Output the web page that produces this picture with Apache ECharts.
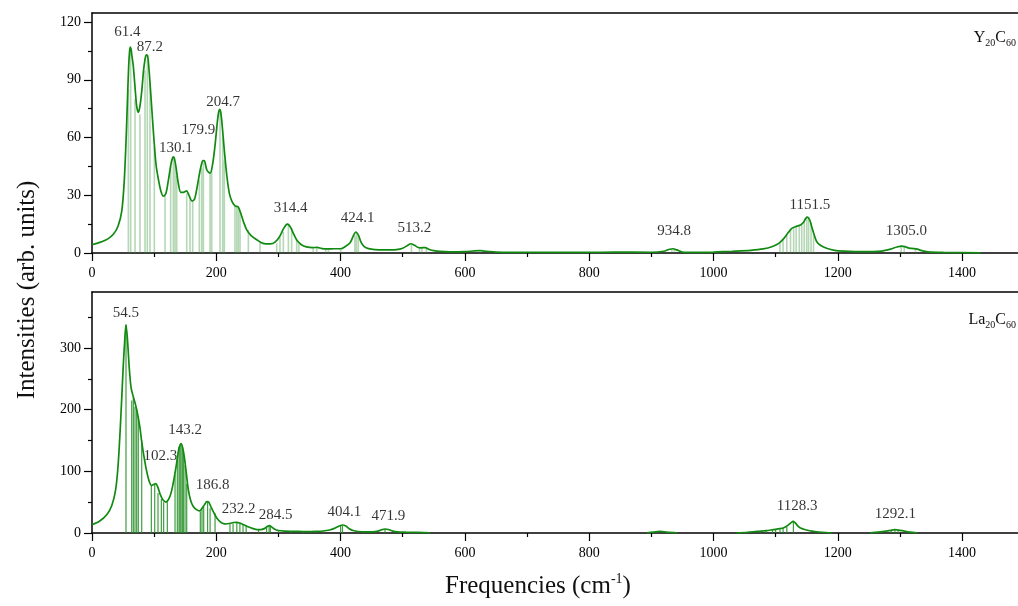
<!DOCTYPE html>
<html>
<head>
<meta charset="utf-8">
<script src="https://cdn.jsdelivr.net/npm/echarts@6/dist/echarts.min.js"></script>
<style>
  html, body { margin: 0; padding: 0; background: #fff; }
  #chart { width: 1018px; height: 606px; }
</style>
</head>
<body>
<div id="chart"></div>
<script>
// Y20C60 spectrum (top panel)
const topFreq = [0, 15, 25, 35, 42, 48, 52, 55, 57, 59, 60.3, 61.5, 62.8, 64, 66.5, 70, 72, 74.5, 77, 80, 83, 85, 86.6, 88, 89.4, 90.5, 93, 96, 99, 103, 107, 111, 115, 119, 123, 127, 129.5, 131, 132.5, 135, 139, 143, 147, 152, 156, 161, 165, 169, 174, 177, 178.5, 180, 181.5, 185, 190, 194, 198, 202, 204, 205.5, 207, 209, 213, 217, 221, 225, 230, 235, 239, 244, 249, 256, 265, 275, 287, 295, 302, 308, 312, 314.5, 317, 320, 325, 330, 337, 345, 355, 362, 370, 378, 390, 400, 407, 415, 420, 424.5, 429, 433, 438, 445, 455, 470, 490, 500, 507, 513, 519, 524, 529, 536, 543, 550, 560, 575, 600, 615, 625, 635, 650, 700, 800, 840, 900, 920, 928, 934.5, 941, 950, 970, 1000, 1030, 1060, 1080, 1095, 1105, 1113, 1120, 1126, 1133, 1140, 1145, 1148.5, 1151.5, 1155, 1158, 1162, 1166, 1172, 1182, 1195, 1210, 1240, 1270, 1285, 1295, 1303, 1308, 1315, 1322, 1328, 1335, 1345, 1370, 1430]
const topCurve = [4.3, 5.8, 7.2, 10, 14, 22, 38, 60, 79, 97, 104, 107, 106, 103, 97, 83, 76, 73, 76, 84, 95, 100, 102.5, 103, 102.5, 100, 90, 76, 62, 46, 38, 32, 29.5, 31, 38, 46, 49.3, 50, 49.3, 45, 36, 31.5, 31.5, 32.3, 30, 27, 28, 34, 43, 47, 48, 48, 47.5, 43, 41.5, 46, 56, 69, 73.5, 74.6, 73.5, 68, 53, 40, 31, 27, 24.5, 24, 21, 16, 12, 9, 6.9, 5, 4.7, 5.8, 8.6, 12.5, 14.5, 15, 14.5, 13, 9.5, 6.5, 4.3, 3.2, 2.8, 2.9, 2.3, 2.1, 2.2, 2.2, 3.2, 5.2, 8.5, 10.9, 9, 5.5, 3.3, 2.3, 1.8, 1.6, 1.8, 2.5, 3.8, 4.8, 4, 3, 2.7, 2.8, 1.8, 1.2, 0.8, 0.6, 0.7, 1.1, 1.2, 0.9, 0.5, 0.3, 0.3, 0.5, 0.4, 0.9, 1.8, 2.2, 1.6, 0.5, 0.3, 0.5, 0.9, 1.4, 2.1, 3.4, 5, 7.5, 10.5, 12.8, 13.8, 14.5, 16, 18, 18.6, 17, 13.8, 9.5, 6, 4, 2.5, 1.4, 1, 0.7, 1, 2, 3.1, 3.6, 3.3, 2.5, 2.3, 2, 1.2, 0.6, 0.3, 0.1]
const topStickFreq = [58.5, 62.2, 69.2, 77.2, 85.3, 89, 93.3, 100.3, 117.5, 126.6, 130.9, 133.6, 136.3, 152.4, 157.7, 162, 172.7, 176.5, 179.2, 190, 192.6, 206, 210.3, 212.9, 230, 232.9, 235.5, 238.2, 251.6, 270.4, 297.2, 302.5, 307.9, 316, 321.3, 329.4, 333, 356, 361.6, 376, 380.4, 400, 423, 425.5, 428.5, 514, 527, 531, 538, 933, 937, 1107, 1112, 1118, 1124, 1129, 1133, 1138, 1142, 1146, 1150, 1153, 1157, 1161, 1302, 1307, 1325]
const topStickHeight = [85, 104, 80, 72, 95, 100, 88, 55, 30, 45, 49, 47, 40, 31, 29, 27, 38, 44, 47, 41, 44, 73, 60, 48, 24, 24, 24, 22, 12, 6, 5, 8, 11, 15, 13, 7, 5, 2.5, 2.5, 2, 2, 2, 9, 10.5, 9.5, 4.5, 2.7, 2.7, 2.7, 2, 2, 5.5, 7, 9, 12, 13, 13.5, 14, 14.5, 16, 18, 18, 16, 9, 3.3, 3.3, 2]
const topPeakText = ['61.4', '87.2', '130.1', '179.9', '204.7', '314.4', '424.1', '513.2', '934.8', '1151.5', '1305.0']
const topPeakLabelX = [57, 93.3, 135, 171, 211, 319.7, 427.5, 518.7, 936.6, 1155, 1310.5]
const topPeakLabelY = [114.7, 107, 54.4, 63.9, 78.5, 23.6, 18.1, 13, 11.2, 25, 11.2]

// La20C60 spectrum (bottom panel)
const botFreq = [0, 12, 24, 32, 38, 42, 46, 50, 52.5, 54.7, 57, 60, 63, 66.5, 70, 73, 77, 80, 84, 88, 92, 96, 100, 102.5, 106, 110, 114, 119, 124, 128, 132, 136, 139.5, 143.2, 146, 149, 152, 155, 159, 163, 168, 173, 177, 181, 185, 188, 192, 196, 201, 206, 211, 216, 222, 228, 233, 238, 244, 250, 258, 266, 272, 278, 282, 285.5, 289, 294, 300, 310, 325, 345, 360, 372, 382, 390, 397, 403.5, 409, 414, 420, 428, 440, 452, 460, 466, 471.5, 477, 484, 492, 505, 525, 544, 700, 893, 903, 914, 925, 941, 990, 1037, 1055, 1070, 1085, 1096, 1107, 1114, 1119, 1124, 1128.5, 1132, 1136, 1140, 1147, 1155, 1163, 1175, 1190, 1220, 1252, 1265, 1278, 1287, 1292, 1298, 1307, 1316, 1327]
const botCurve = [13.5, 19, 30, 45, 70, 110, 180, 265, 310, 338, 315, 267, 235, 221, 208, 195, 172, 148, 122, 100, 84, 77, 79, 80, 74, 62, 54, 50, 56, 68, 88, 112, 135, 145, 138, 120, 95, 70, 52, 43, 38, 36, 40, 46, 51, 50, 41, 33, 24, 18.5, 15.5, 14.6, 15.5, 17, 17.3, 16, 13.5, 10.5, 7.5, 5.6, 5.6, 7.5, 10.5, 11.9, 10, 6, 4, 3, 2.7, 2.2, 2.5, 3.2, 4.8, 7.5, 11, 13, 11, 7, 4, 2.4, 1.7, 1.8, 3, 5.2, 6.5, 5.6, 3, 1.9, 1.4, 0.9, 0.4, null, 0.3, 1.5, 2.7, 1.5, 0.3, null, 0.3, 1.2, 2.7, 3.8, 5.4, 7, 9, 12, 16, 18.8, 16, 11, 8, 5.6, 3.6, 2.4, 1.2, 0.3, null, 0.3, 1.3, 3, 4.8, 5.4, 4.8, 3, 1.4, 0.3]
const botStickFreq = [54.7, 63.9, 66.5, 69.2, 71.9, 74.5, 80, 95.5, 100.9, 106.2, 111.6, 115.3, 121.2, 133.6, 137.3, 140, 141.6, 143.2, 145.3, 147, 149.7, 152.4, 174.3, 177, 179.7, 186, 190, 198, 222, 227, 233, 238, 243, 248, 268, 281, 285, 287, 300, 320, 340, 360, 372, 400, 403, 471.5, 1075, 1085, 1095, 1100, 1107, 1112, 1118, 1128.6, 1286, 1292, 1297]
const botStickHeight = [337, 215, 220, 205, 200, 190, 150, 78, 80, 65, 55, 50, 50, 95, 120, 140, 143, 145, 140, 130, 110, 80, 35, 38, 42, 50, 40, 32, 14, 15, 17, 15, 13, 10, 6, 10, 12, 10, 3, 3, 3, 3, 3, 12, 12, 6, 3, 3.5, 4.5, 5, 6, 8, 10, 18, 4, 5, 4]
const botPeakText = ['54.5', '102.3', '143.2', '186.8', '232.2', '284.5', '404.1', '471.9', '1128.3', '1292.1']
const botPeakLabelX = [54.7, 110, 149.7, 194, 236, 295.6, 406, 476.9, 1134.5, 1292.8]
const botPeakLabelY = [356.7, 124.2, 167.5, 78.3, 39.4, 29.7, 33.4, 28, 44.3, 30.8]

// tick labels
const xMajor = [0, 200, 400, 600, 800, 1000, 1200, 1400]
const xMinor = [100, 300, 500, 700, 900, 1100, 1300]
const topYMajor = [0, 30, 60, 90, 120]
const topYMinor = [15, 45, 75, 105]
const botYMajor = [0, 100, 200, 300]
const botYMinor = [50, 150, 250, 350]

const serif = 'Liberation Serif'
const green = '#118a11'
const xMax = 1490

function pairs(xs, ys) {
  return xs.map((x, i) => [x, ys[i]])
}
function labelPoints(xs, ys, texts) {
  return xs.map((x, i) => ({ value: [x, ys[i]], name: texts[i] }))
}

function xAxes(gridIndex) {
  return [{
    gridIndex, type: 'value', position: 'bottom', min: 0, max: xMax,
    axisLine: { lineStyle: { color: '#000', width: 1.5 } },
    axisTick: { customValues: xMajor, length: 8, lineStyle: { color: '#000', width: 1.2 } },
    axisLabel: { customValues: xMajor, formatter: v => String(v), color: '#000', fontFamily: serif, fontSize: 14, margin: 13 },
    splitLine: { show: false }
  }, {
    gridIndex, type: 'value', position: 'bottom', min: 0, max: xMax,
    axisLine: { show: false },
    axisTick: { customValues: xMinor, length: 4, lineStyle: { color: '#000', width: 1.2 } },
    axisLabel: { show: false },
    splitLine: { show: false }
  }, {
    gridIndex, type: 'value', position: 'top', min: 0, max: xMax,
    axisLine: { lineStyle: { color: '#000', width: 1.5 } },
    axisTick: { show: false },
    axisLabel: { show: false },
    splitLine: { show: false }
  }]
}

function yAxes(gridIndex, max, major, minor) {
  return [{
    gridIndex, type: 'value', position: 'left', min: 0, max: max,
    axisLine: { show: true, lineStyle: { color: '#000', width: 1.5 } },
    axisTick: { show: true, customValues: major, length: 8, lineStyle: { color: '#000', width: 1.2 } },
    axisLabel: { customValues: major, formatter: v => String(v), color: '#000', fontFamily: serif, fontSize: 14, margin: 11 },
    splitLine: { show: false }
  }, {
    gridIndex, type: 'value', position: 'left', min: 0, max: max,
    axisLine: { show: false },
    axisTick: { show: true, customValues: minor, length: 4, lineStyle: { color: '#000', width: 1.2 } },
    axisLabel: { show: false },
    splitLine: { show: false }
  }]
}

function panelSeries(xIdx, yIdx, sticks, curve, labels, stickColor, stickWidth) {
  return [{
    type: 'bar', xAxisIndex: xIdx, yAxisIndex: yIdx,
    data: sticks, barWidth: stickWidth, silent: true,
    itemStyle: { color: stickColor }
  }, {
    type: 'line', xAxisIndex: xIdx, yAxisIndex: yIdx,
    data: curve, showSymbol: false, smooth: 0.3,
    connectNulls: false,
    lineStyle: { color: green, width: 1.7 }
  }, {
    type: 'scatter', xAxisIndex: xIdx, yAxisIndex: yIdx,
    data: labels, symbolSize: 1, itemStyle: { color: 'rgba(0,0,0,0)' },
    label: {
      show: true, position: 'inside', formatter: p => p.name,
      color: '#000', fontFamily: serif, fontSize: 15
    }
  }]
}

const chart = echarts.init(document.getElementById('chart'))

chart.setOption({
  animation: false,
  grid: [
    { left: 92, right: 0, top: 13, height: 240 },
    { left: 92, right: 0, top: 292, height: 241 }
  ],
  xAxis: [...xAxes(0), ...xAxes(1)],
  yAxis: [...yAxes(0, 124.7, topYMajor, topYMinor), ...yAxes(1, 391, botYMajor, botYMinor)],
  series: [
    ...panelSeries(0, 0, pairs(topStickFreq, topStickHeight), pairs(topFreq, topCurve),
      labelPoints(topPeakLabelX, topPeakLabelY, topPeakText), 'rgba(60,150,60,0.38)', 1.6),
    ...panelSeries(3, 2, pairs(botStickFreq, botStickHeight), pairs(botFreq, botCurve),
      labelPoints(botPeakLabelX, botPeakLabelY, botPeakText), 'rgba(30,140,30,0.85)', 1.2)
  ],
  graphic: [{
    type: 'text', right: 2, top: 30,
    style: {
      text: '{m|Y}{s|20}{m|C}{s|60}',
      rich: {
        m: { fontFamily: serif, fontSize: 16, fill: '#111' },
        s: { fontFamily: serif, fontSize: 10, fill: '#111', padding: [10, 0, 0, 0] }
      }
    }
  }, {
    type: 'text', right: 2, top: 312,
    style: {
      text: '{m|La}{s|20}{m|C}{s|60}',
      rich: {
        m: { fontFamily: serif, fontSize: 16, fill: '#111' },
        s: { fontFamily: serif, fontSize: 10, fill: '#111', padding: [10, 0, 0, 0] }
      }
    }
  }, {
    type: 'text', x: 27, y: 290, rotation: Math.PI / 2,
    style: {
      text: 'Intensities (arb. units)', fontFamily: serif, fontSize: 25, fill: '#111',
      align: 'center', verticalAlign: 'middle'
    }
  }, {
    type: 'text', left: 445, top: 572,
    style: {
      text: '{m|Frequencies (cm}{u|-1}{m|)}',
      rich: {
        m: { fontFamily: serif, fontSize: 25, fill: '#111' },
        u: { fontFamily: serif, fontSize: 14, fill: '#111', padding: [0, 0, 14, 0] }
      }
    }
  }]
})
</script>
</body>
</html>
